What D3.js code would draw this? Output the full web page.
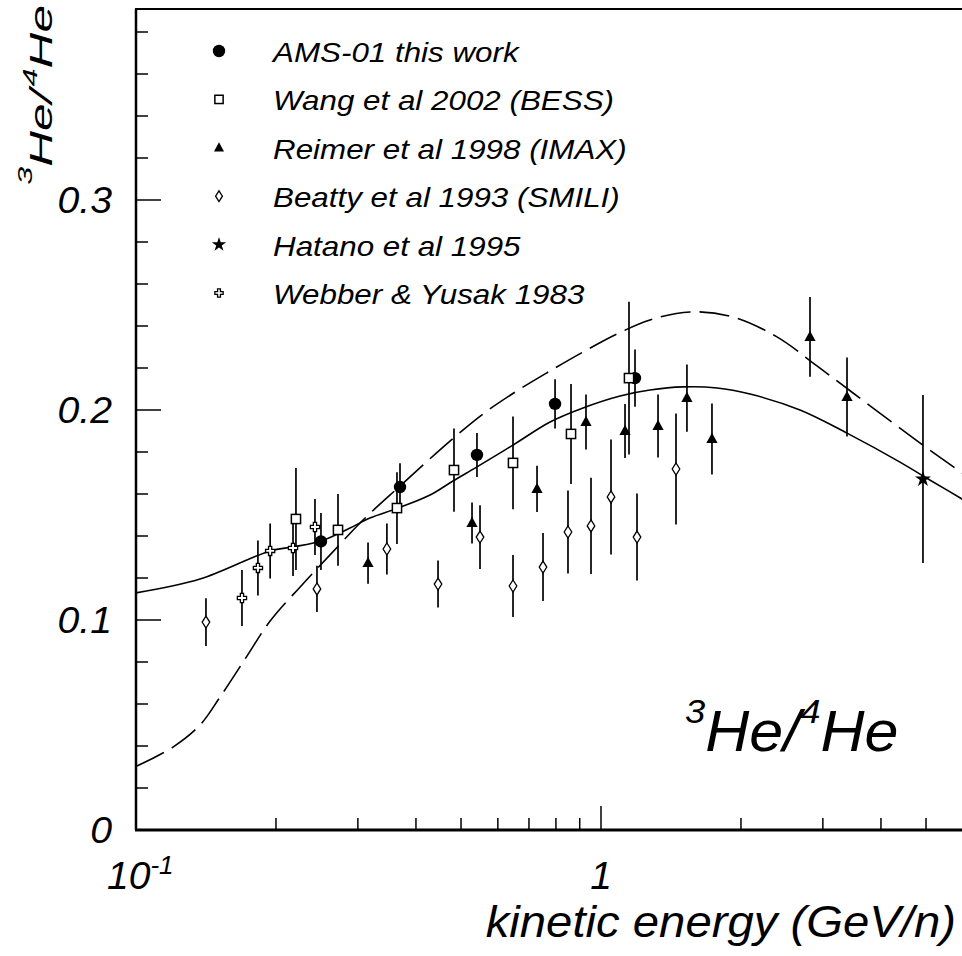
<!DOCTYPE html>
<html><head><meta charset="utf-8">
<script src="https://cdn.jsdelivr.net/npm/d3@7"></script>
<style>
html,body{margin:0;padding:0;background:#fff;overflow:hidden}
text{font-family:"Liberation Sans",Arial,sans-serif;font-style:italic;fill:#000}
</style></head>
<body><svg id="c" width="962" height="956"></svg>
<script>
// ---- data (kinetic energy GeV/n, ratio, error) ----
const amsE   = [0.2499, 0.3696, 0.5411, 0.7965, 1.1834];
const amsR   = [0.1374, 0.1633, 0.1786, 0.2029, 0.2152];
const amsErr = [0.0136, 0.0114, 0.0105, 0.0117, 0.0136];

const bessE   = [0.2208, 0.2719, 0.3641, 0.4829, 0.6468, 0.8620, 1.1487];
const bessR   = [0.1481, 0.1429, 0.1533, 0.1714, 0.1748, 0.1886, 0.2152];
const bessErr = [0.0243, 0.0171, 0.0171, 0.0198, 0.0221, 0.0238, 0.0364];

const imaxE   = [0.3155, 0.5280, 0.7285, 0.9284, 1.1263, 1.3263, 1.5304, 1.7324, 2.815, 3.381];
const imaxR   = [0.1271, 0.1462, 0.1624, 0.1943, 0.1900, 0.1924, 0.2057, 0.1862, 0.2348, 0.2062];
const imaxErr = [0.0098, 0.0098, 0.0110, 0.0131, 0.0129, 0.0150, 0.0160, 0.0169, 0.0190, 0.0188];

const smiliE   = [0.1414, 0.2450, 0.3464, 0.4462, 0.5493, 0.6468, 0.7504, 0.8492, 0.9517, 1.0508, 1.1952, 1.4497];
const smiliR   = [0.0990, 0.1148, 0.1338, 0.1171, 0.1395, 0.1162, 0.1252, 0.1419, 0.1448, 0.1586, 0.1395, 0.1719];
const smiliErr = [0.0114, 0.0110, 0.0121, 0.0112, 0.0152, 0.0148, 0.0162, 0.0198, 0.0229, 0.0274, 0.0207, 0.0264];

const hatanoE   = [4.925];
const hatanoR   = [0.1671];
const hatanoErr = [0.0400];

const webberE   = [0.1690, 0.1829, 0.1943, 0.2176, 0.2426];
const webberR   = [0.1105, 0.1248, 0.1329, 0.1343, 0.1443];
const webberErr = [0.0133, 0.0131, 0.0131, 0.0133, 0.0133];

// model curves
const solidE = [0.1, 0.1373, 0.1943, 0.2176, 0.2499, 0.2886, 0.3185, 0.3661, 0.4289, 0.4805, 0.5411, 0.6468, 0.777, 0.9148, 1.099, 1.2743, 1.5007, 1.7763, 2.0914, 2.679, 3.381, 4.395, 4.925, 5.976, 7.2];
const solidR = [0.1129, 0.1195, 0.1329, 0.1348, 0.1376, 0.1438, 0.1486, 0.1533, 0.1595, 0.1662, 0.1729, 0.1833, 0.1943, 0.2010, 0.2067, 0.2095, 0.2110, 0.2105, 0.2076, 0.2000, 0.1890, 0.1752, 0.1686, 0.1576, 0.1467];
const dashE = [0.1005, 0.1201, 0.1373, 0.1516, 0.1716, 0.1943, 0.2275, 0.2614, 0.3078, 0.3696, 0.4734, 0.5574, 0.6597, 0.777, 0.9148, 1.0825, 1.2743, 1.554, 1.923, 2.390, 2.914, 3.484, 4.246, 5.023, 5.976, 7.21];
const dashR = [0.0305, 0.0395, 0.0500, 0.0633, 0.0814, 0.0995, 0.1167, 0.1310, 0.1476, 0.1638, 0.1852, 0.1981, 0.2091, 0.2186, 0.2276, 0.2362, 0.2429, 0.2467, 0.2443, 0.2348, 0.2210, 0.2081, 0.1938, 0.1819, 0.1700, 0.1571];

const legendLabels = ["AMS-01 this work", "Wang et al 2002 (BESS)", "Reimer et al 1998 (IMAX)", "Beatty et al 1993 (SMILI)", "Hatano et al 1995", "Webber & Yusak 1983"];
const yTickLabels = ["0", "0.1", "0.2", "0.3"];
const yTickValues = [0, 0.1, 0.2, 0.3];

// ---- drawing ----
const svg = d3.select("#c");
const x = d3.scaleLog().domain([0.1, 10]).range([136, 1066]);
const y = d3.scaleLinear().domain([0, 0.3]).range([830, 200]);
const yTop = 0.391;

svg.append("defs").append("clipPath").attr("id","clip").append("rect")
  .attr("x",136).attr("y",y(yTop)).attr("width",930).attr("height",y(0)-y(yTop));

// curves
const line = d3.line().x(d=>x(d[0])).y(d=>y(d[1])).curve(d3.curveCatmullRom.alpha(0.5));
const cg = svg.append("g").attr("clip-path","url(#clip)");
cg.append("path").attr("d", line(solidE.map((e,i)=>[e, solidR[i]])))
  .attr("fill","none").attr("stroke","#000").attr("stroke-width",1.6);
cg.append("path").attr("d", line(dashE.map((e,i)=>[e, dashR[i]])))
  .attr("fill","none").attr("stroke","#000").attr("stroke-width",1.6)
  .attr("stroke-dasharray","30,9");

// symbols
function drawSym(g, type, cx, cy, s) {
  s = s || 1;
  if (type === "circle") {
    g.append("circle").attr("cx",cx).attr("cy",cy).attr("r",6.2*s).attr("fill","#000");
  } else if (type === "square") {
    const h = 4.6*s;
    g.append("rect").attr("x",cx-h).attr("y",cy-h).attr("width",2*h).attr("height",2*h)
      .attr("fill","#fff").attr("stroke","#000").attr("stroke-width",1.5);
  } else if (type === "triangle") {
    const w = 5.6*s, h1 = 6.2*s, h2 = 4*s;
    g.append("path").attr("d",`M${cx},${cy-h1}L${cx+w},${cy+h2}L${cx-w},${cy+h2}Z`).attr("fill","#000");
  } else if (type === "diamond") {
    const w = 3.8*s, h = 6*s;
    g.append("path").attr("d",`M${cx},${cy-h}L${cx+w},${cy}L${cx},${cy+h}L${cx-w},${cy}Z`)
      .attr("fill","#fff").attr("stroke","#000").attr("stroke-width",1.3);
  } else if (type === "star") {
    g.append("path").attr("d", d3.symbol().type(d3.symbolStar).size(80*s*s)()).attr("transform",`translate(${cx},${cy})`).attr("fill","#000");
  } else if (type === "cross") {
    const a = 4.6*s, b = 1.6*s;
    g.append("path").attr("d",`M${cx-b},${cy-a}H${cx+b}V${cy-b}H${cx+a}V${cy+b}H${cx+b}V${cy+a}H${cx-b}V${cy+b}H${cx-a}V${cy-b}H${cx-b}Z`)
      .attr("fill","#fff").attr("stroke","#000").attr("stroke-width",1.3);
  }
}

const series = [
  {E: amsE, R: amsR, err: amsErr, sym: "circle"},
  {E: bessE, R: bessR, err: bessErr, sym: "square"},
  {E: imaxE, R: imaxR, err: imaxErr, sym: "triangle"},
  {E: smiliE, R: smiliR, err: smiliErr, sym: "diamond"},
  {E: hatanoE, R: hatanoR, err: hatanoErr, sym: "star"},
  {E: webberE, R: webberR, err: webberErr, sym: "cross"}
];
const eg = svg.append("g"), mg = svg.append("g");
series.forEach(s => {
  s.E.forEach((e,i) => {
    eg.append("line").attr("x1",x(e)).attr("x2",x(e))
      .attr("y1",y(s.R[i]-s.err[i])).attr("y2",y(s.R[i]+s.err[i]))
      .attr("stroke","#000").attr("stroke-width",1.7);
  });
});
series.forEach(s => {
  s.E.forEach((e,i) => drawSym(mg, s.sym, x(e), y(s.R[i]), 1));
});

// frame & axes
const fg = svg.append("g").attr("stroke","#000").attr("fill","none");
fg.append("line").attr("x1",136).attr("x2",136).attr("y1",y(yTop)).attr("y2",y(0)).attr("stroke-width",2.5);
fg.append("line").attr("x1",135).attr("x2",962).attr("y1",y(0)).attr("y2",y(0)).attr("stroke-width",2.8);
fg.append("line").attr("x1",135).attr("x2",962).attr("y1",y(yTop)).attr("y2",y(yTop)).attr("stroke-width",2);

d3.range(1, 20).forEach(k => {
  const v = k*0.02;
  const major = Math.abs(v*10 - Math.round(v*10)) < 1e-6;
  fg.append("line").attr("x1",136).attr("x2",136+(major?25:12)).attr("y1",y(v)).attr("y2",y(v)).attr("stroke-width",1.5);
});
const xt = [];
[0.1, 1].forEach(dec => { for (let m=1;m<10;m++) xt.push(dec*m); });
xt.forEach(v => {
  if (v <= 0.1 + 1e-9) return;
  const major = Math.abs(Math.log10(v) - Math.round(Math.log10(v))) < 1e-6;
  fg.append("line").attr("x1",x(v)).attr("x2",x(v)).attr("y1",y(0)).attr("y2",y(0)-(major?24:12)).attr("stroke-width",1.5);
});

// text helper with horizontal stretch (reference glyphs are wider)
function txt(g, px, py, size, sx, anchor, rot) {
  const t = g.append("text")
    .attr("transform", `translate(${px},${py})` + (rot ? ` rotate(${rot})` : "") + ` scale(${sx},1)`)
    .attr("text-anchor", anchor || "start").style("font-size", size + "px");
  return t;
}

const tg = svg.append("g");
yTickValues.forEach((v,i) => {
  txt(tg, 112, y(v)+13, 37, 1.06, "end").text(yTickLabels[i]);
});
const t10 = txt(tg, 107, 889, 39, 1.0, "start");
t10.append("tspan").text("10");
t10.append("tspan").attr("dy",-15).style("font-size","26px").text("-1");
txt(tg, 601, 889, 39, 1.0, "middle").text("1");

// axis titles
txt(tg, 956, 937, 44, 1.075, "end").text("kinetic energy (GeV/n)");
const yt = txt(tg, 52, 5, 32, 1.55, "end", -90);
yt.append("tspan").attr("dy",-20).style("font-size","21px").text("3");
yt.append("tspan").attr("dy",20).text("He/");
yt.append("tspan").attr("dy",-15).attr("dx",2).style("font-size","21px").text("4");
yt.append("tspan").attr("dy",15).text("He");

// big label
const bl = txt(tg, 685, 751, 57, 1.07, "start");
bl.append("tspan").attr("dy",-28).style("font-size","34px").text("3");
bl.append("tspan").attr("dy",28).text("He/");
bl.append("tspan").attr("dy",-28).style("font-size","34px").text("4");
bl.append("tspan").attr("dy",28).text("He");

// legend
const syms = ["circle","square","triangle","diamond","star","cross"];
const lg = svg.append("g");
legendLabels.forEach((lab,i) => {
  const ly = 51 + i*48.4;
  drawSym(lg, syms[i], 219, ly, i === 0 ? 1 : 0.9);
  txt(lg, 273, ly+11, 28, 1.12, "start").text(lab);
});
</script></body></html>
